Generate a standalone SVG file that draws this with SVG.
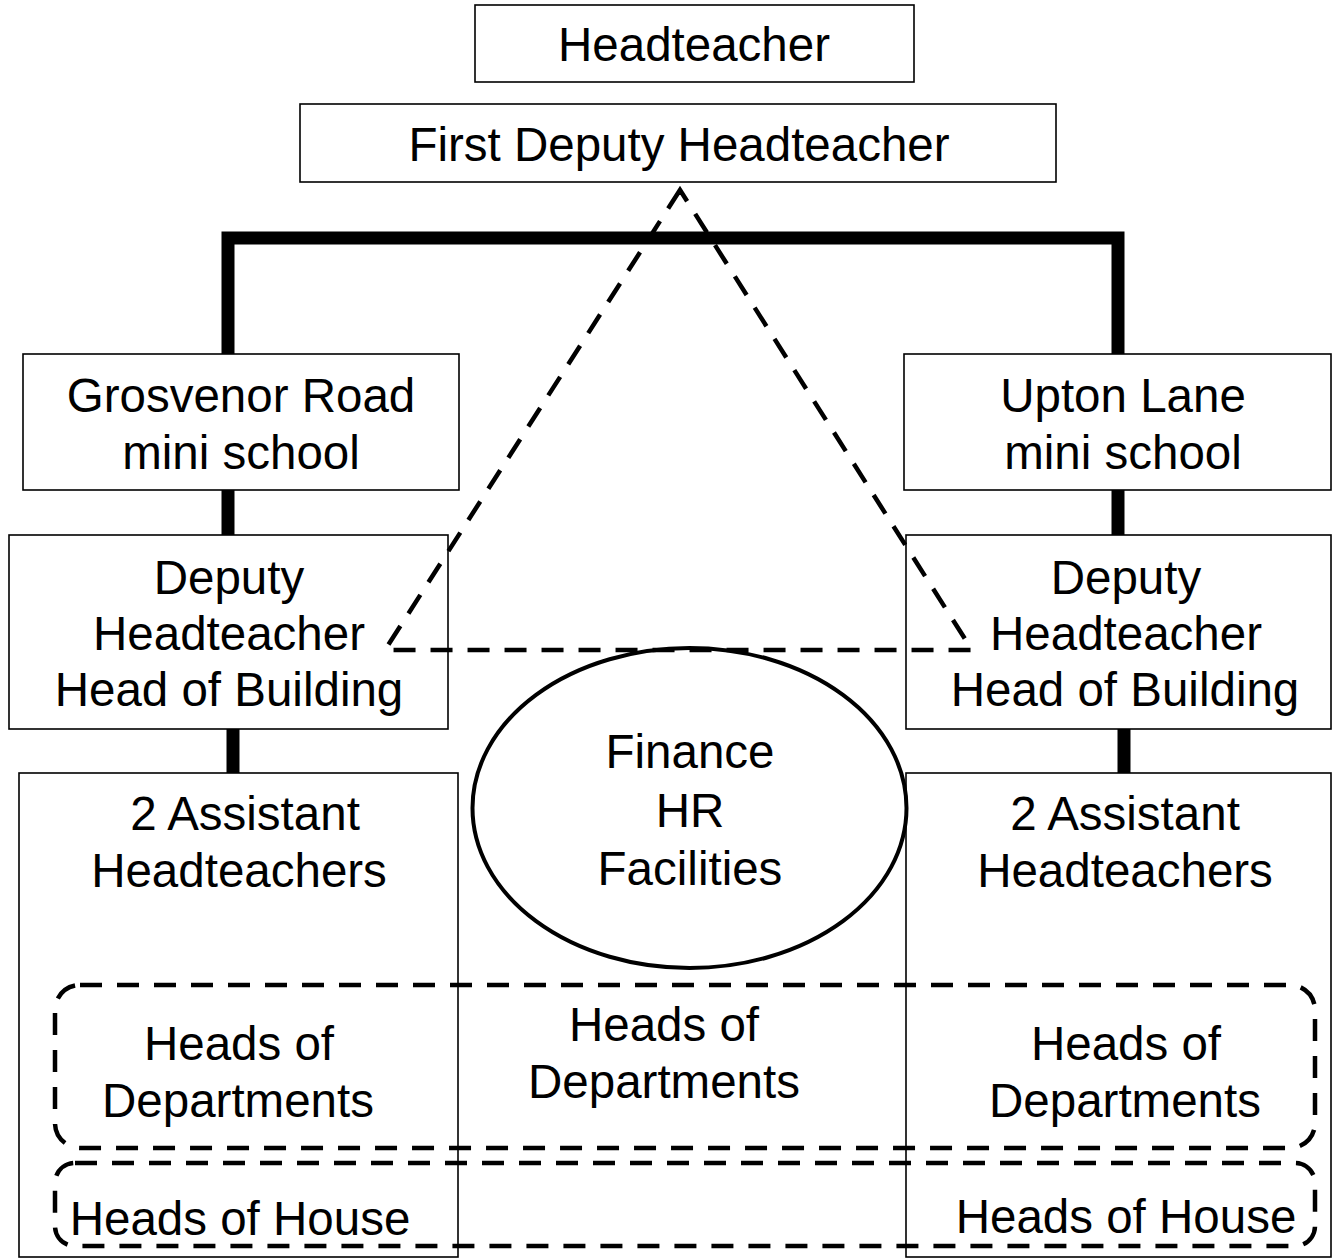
<svg xmlns="http://www.w3.org/2000/svg" width="1332" height="1258" viewBox="0 0 1332 1258">
<style>
.box{fill:#fff;stroke:#000;stroke-width:1.6}
.t{font-family:"Liberation Sans",Arial,sans-serif;font-size:47.5px;fill:#000;text-anchor:middle}
.thick{fill:none;stroke:#000;stroke-width:13}
.dash{fill:none;stroke:#000;stroke-width:4.5;stroke-dasharray:22 15}
</style>
<rect width="1332" height="1258" fill="#fff"/>
<g id="connectors">
<path class="thick" d="M228,354 V238 H1118 V354"/>
<path class="thick" d="M228,490 V535"/>
<path class="thick" d="M233,729 V773"/>
<path class="thick" d="M1118,490 V535"/>
<path class="thick" d="M1124,729 V773"/>
</g>
<g id="headteacher"><rect class="box" x="475" y="5" width="439" height="77"/><text class="t" x="694" y="61">Headteacher</text></g>
<g id="first-deputy"><rect class="box" x="300" y="104" width="756" height="78"/><text class="t" x="679" y="161">First Deputy Headteacher</text></g>
<g id="grosvenor"><rect class="box" x="23" y="354" width="436" height="136"/><text class="t" x="241" y="412">Grosvenor Road</text><text class="t" x="241" y="469">mini school</text></g>
<g id="upton"><rect class="box" x="904" y="354" width="427" height="136"/><text class="t" x="1123" y="412">Upton Lane</text><text class="t" x="1123" y="469">mini school</text></g>
<g id="deputy-left"><rect class="box" x="9" y="535" width="439" height="194"/><text class="t" x="229" y="594">Deputy</text><text class="t" x="229" y="650">Headteacher</text><text class="t" x="229" y="706">Head of Building</text></g>
<g id="deputy-right"><rect class="box" x="906" y="535" width="425" height="194"/><text class="t" x="1126" y="594">Deputy</text><text class="t" x="1126" y="650">Headteacher</text><text class="t" x="1125" y="706">Head of Building</text></g>
<g id="assistant-left"><rect class="box" x="19" y="773" width="439" height="484"/><text class="t" x="245" y="830">2 Assistant</text><text class="t" x="239" y="887">Headteachers</text></g>
<g id="assistant-right"><rect class="box" x="906" y="773" width="425" height="484"/><text class="t" x="1125" y="830">2 Assistant</text><text class="t" x="1125" y="887">Headteachers</text></g>
<g id="finance"><ellipse cx="689.5" cy="808" rx="217" ry="160" fill="#fff" stroke="#000" stroke-width="4"/><text class="t" x="690" y="768">Finance</text><text class="t" x="690" y="827">HR</text><text class="t" x="690" y="885">Facilities</text></g>
<g id="shared-services"><path class="dash" d="M680,190 L385,650 H972 Z"/></g>
<g id="heads-of-departments"><rect class="dash" x="55" y="985" width="1260" height="163" rx="25" ry="25"/><text class="t" x="239" y="1060">Heads of</text><text class="t" x="238" y="1117">Departments</text><text class="t" x="664" y="1041">Heads of</text><text class="t" x="664" y="1098">Departments</text><text class="t" x="1126" y="1060">Heads of</text><text class="t" x="1125" y="1117">Departments</text></g>
<g id="heads-of-house"><rect class="dash" x="55" y="1163" width="1260" height="83" rx="20" ry="20"/><text class="t" x="240" y="1235">Heads of House</text><text class="t" x="1126" y="1233">Heads of House</text></g>
</svg>
